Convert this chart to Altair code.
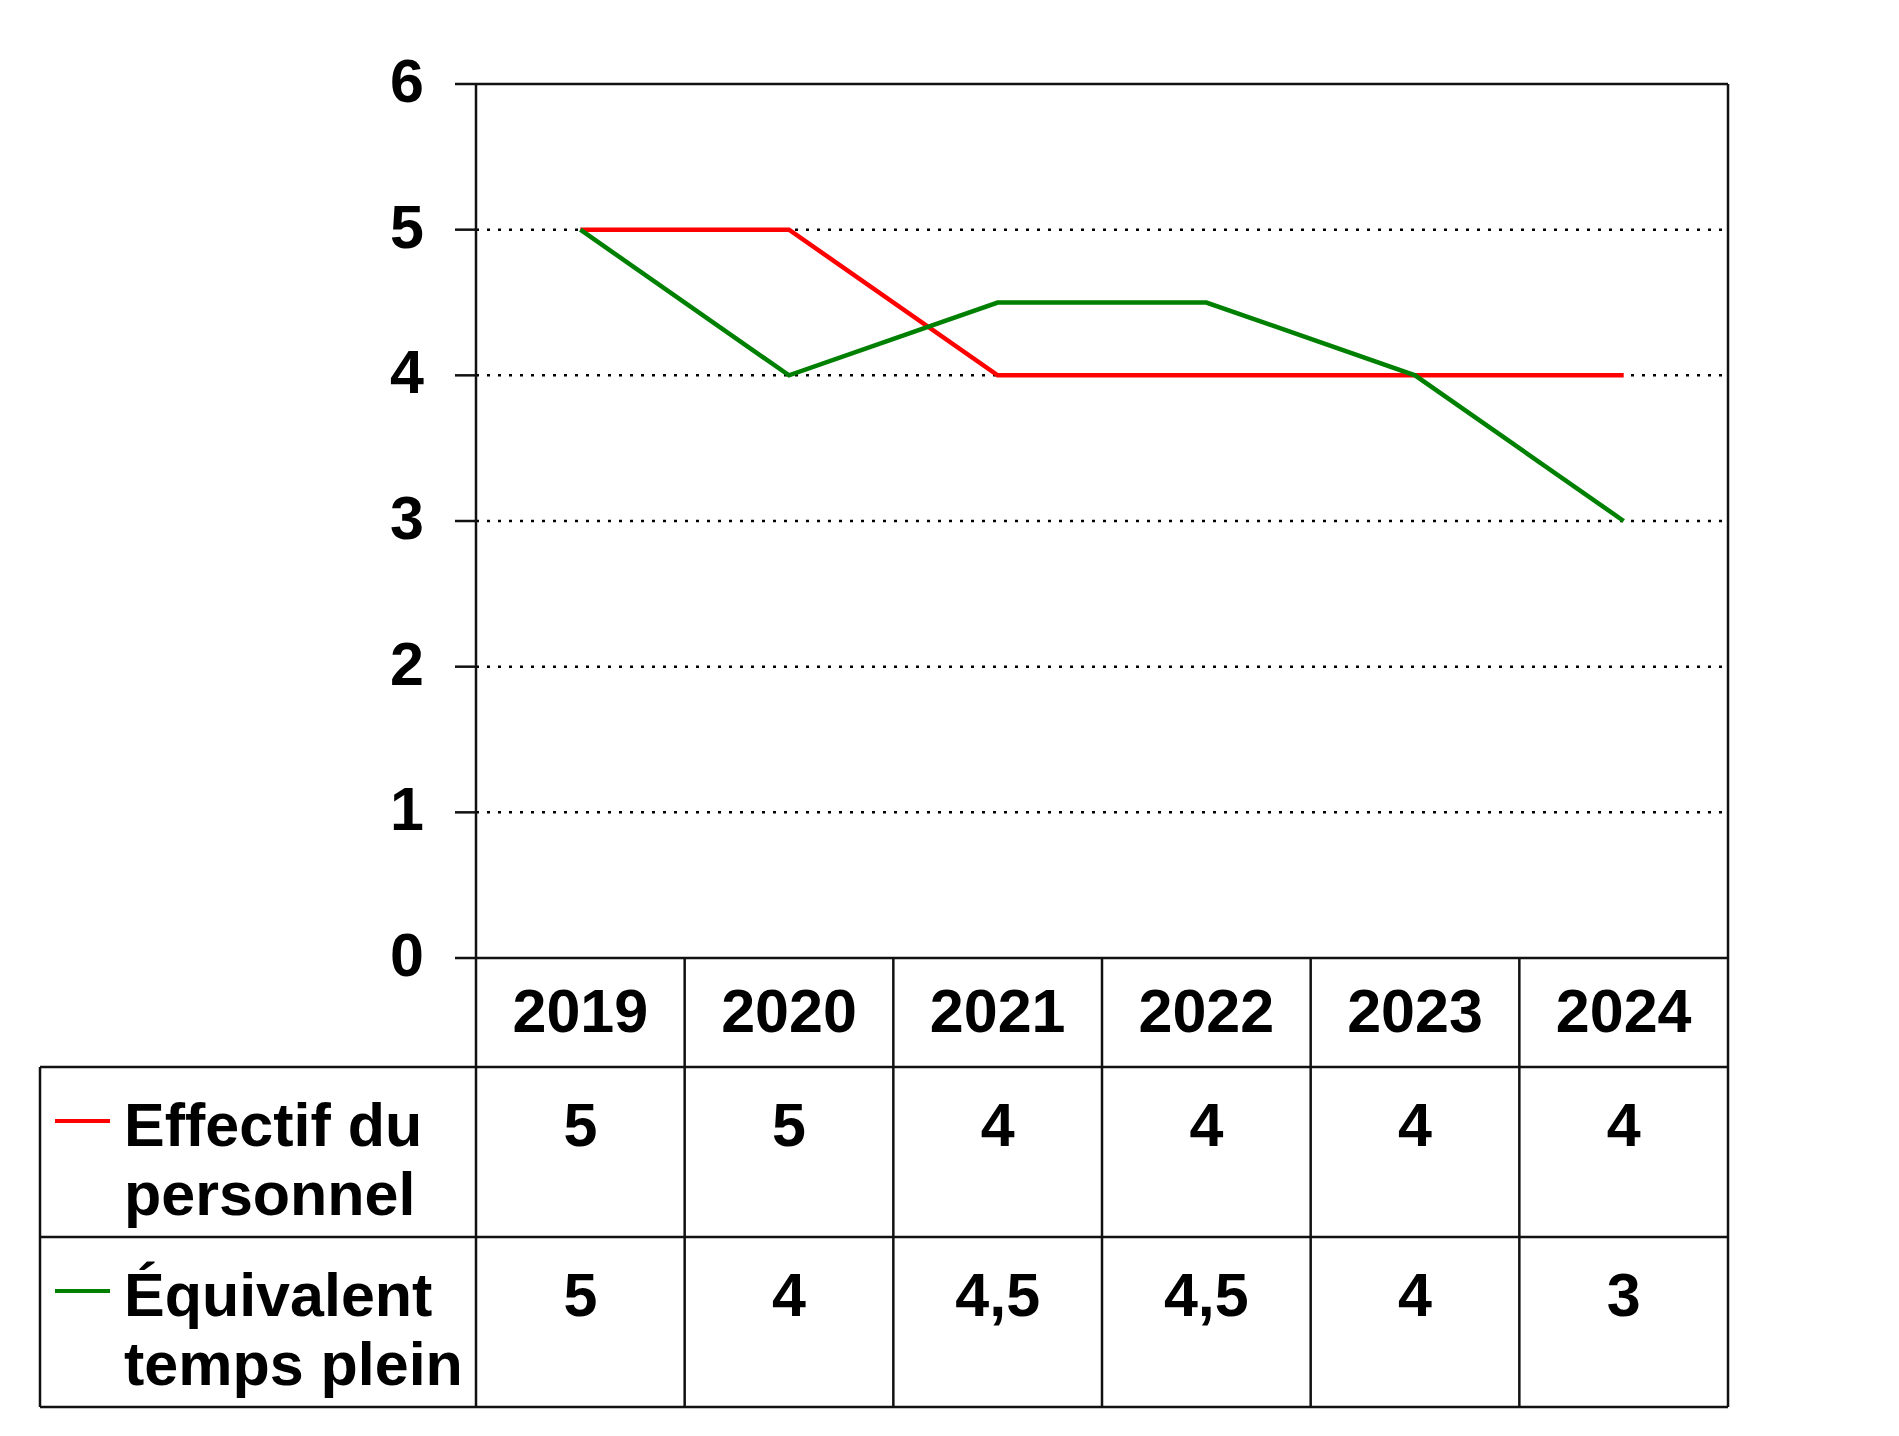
import altair as alt
import pandas as pd

# ---------------- data ----------------
years = ["2019", "2020", "2021", "2022", "2023", "2024"]
effectif = [5, 5, 4, 4, 4, 4]
etp = [5, 4, 4.5, 4.5, 4, 3]
effectif_labels = ["5", "5", "4", "4", "4", "4"]
etp_labels = ["5", "4", "4,5", "4,5", "4", "3"]
series_names = ["Effectif du personnel", "Équivalent temps plein"]
series_text = ["Effectif du\npersonnel", "Équivalent\ntemps plein"]
series_colors = ["#FF0000", "#008000"]
y_ticks = [0, 1, 2, 3, 4, 5, 6]
grid_values = [1, 2, 3, 4, 5]

# ---------------- layout (pixels) ----------------
COL_PX = 208.67      # width of one year column
UNIT_PX = 145.67     # pixels per y unit
LEG_PX = 436         # width of legend column of the table
HEAD_PX = 109        # header row height
ROW_PX = 170         # data row height
BASE_PX = 79         # text baseline below row top
SW_PX = 54           # swatch position below row top
TICK_PX = 21         # y tick length
FONT = "Liberation Sans"
FS = 61

W = LEG_PX + 6 * COL_PX
H = 6 * UNIT_PX + HEAD_PX + 2 * ROW_PX

x_min = -0.5 - LEG_PX / COL_PX
x_max = 5.5
y_min = -(HEAD_PX + 2 * ROW_PX) / UNIT_PX
y_max = 6.0

def dy(px):  # pixels below y = 0 -> data units
    return -px / UNIT_PX

def dx(px):  # pixels right of table left -> data units
    return x_min + px / COL_PX

xs = alt.Scale(domain=[x_min, x_max], nice=False, zero=False)
ys = alt.Scale(domain=[y_min, y_max], nice=False, zero=False)

# ---------------- lines ----------------
rows = []
for name, vals in zip(series_names, [effectif, etp]):
    for i, v in enumerate(vals):
        rows.append({"i": i, "v": v, "s": name})
line_df = pd.DataFrame(rows)

lines = alt.Chart(line_df).mark_line(strokeWidth=4.5).encode(
    x=alt.X("i:Q", scale=xs, axis=None),
    y=alt.Y("v:Q", scale=ys, axis=None),
    color=alt.Color("s:N", scale=alt.Scale(domain=series_names, range=series_colors), legend=None),
    detail="s:N",
)

# ---------------- y ticks & labels ----------------
tick_df = pd.DataFrame({"y": y_ticks, "x": -0.5, "x2": -0.5 - TICK_PX / COL_PX,
                        "t": [str(v) for v in y_ticks]})
ticks = alt.Chart(tick_df).mark_rule(color="#111111", strokeWidth=2.5).encode(
    x=alt.X("x:Q", scale=xs, axis=None), x2="x2:Q",
    y=alt.Y("y:Q", scale=ys, axis=None),
)
tick_labels = alt.Chart(tick_df).mark_text(
    font=FONT, fontSize=FS, fontWeight="bold", color="black",
    align="right", baseline="middle", dx=-(TICK_PX + 31), dy=0).encode(
    x=alt.X("x:Q", scale=xs, axis=None),
    y=alt.Y("y:Q", scale=ys, axis=None),
    text="t:N",
)

# ---------------- grid ----------------
grid_df = pd.DataFrame({"y": grid_values, "x": -0.5, "x2": 5.5})
grid = alt.Chart(grid_df).mark_rule(color="black", strokeWidth=2.5, strokeDash=[3, 8]).encode(
    x=alt.X("x:Q", scale=xs, axis=None), x2="x2:Q",
    y=alt.Y("y:Q", scale=ys, axis=None),
)

# ---------------- borders ----------------
hb = dy(HEAD_PX)
r1 = dy(HEAD_PX + ROW_PX)
r2 = dy(HEAD_PX + 2 * ROW_PX)
seg = []
seg.append({"x": -0.5, "x2": 5.5, "y": 6, "y2": 6})
seg.append({"x": -0.5, "x2": 5.5, "y": 0, "y2": 0})
seg.append({"x": -0.5, "x2": -0.5, "y": 6, "y2": r2})
seg.append({"x": 5.5, "x2": 5.5, "y": 6, "y2": r2})
for k in range(1, 6):
    seg.append({"x": -0.5 + k, "x2": -0.5 + k, "y": 0, "y2": r2})
for yy in [hb, r1, r2]:
    seg.append({"x": x_min, "x2": 5.5, "y": yy, "y2": yy})
seg.append({"x": x_min, "x2": x_min, "y": hb, "y2": r2})
seg_df = pd.DataFrame(seg)
borders = alt.Chart(seg_df).mark_rule(color="#111111", strokeWidth=2.5).encode(
    x=alt.X("x:Q", scale=xs, axis=None), x2="x2:Q",
    y=alt.Y("y:Q", scale=ys, axis=None), y2="y2:Q",
)

# ---------------- table text ----------------
txt = []
for i, yr in enumerate(years):
    txt.append({"x": i, "y": dy(BASE_PX - 5), "t": yr})
for i, lab in enumerate(effectif_labels):
    txt.append({"x": i, "y": dy(HEAD_PX + BASE_PX), "t": lab})
for i, lab in enumerate(etp_labels):
    txt.append({"x": i, "y": dy(HEAD_PX + ROW_PX + BASE_PX), "t": lab})
txt_df = pd.DataFrame(txt)
cells = alt.Chart(txt_df).mark_text(
    font=FONT, fontSize=FS, fontWeight="bold", color="black",
    align="center", baseline="alphabetic").encode(
    x=alt.X("x:Q", scale=xs, axis=None),
    y=alt.Y("y:Q", scale=ys, axis=None),
    text="t:N",
)

leg_df = pd.DataFrame({
    "x": [dx(84)] * 2,
    "y": [dy(HEAD_PX + BASE_PX), dy(HEAD_PX + ROW_PX + BASE_PX)],
    "t": series_text,
})
leg_text = alt.Chart(leg_df).mark_text(
    font=FONT, fontSize=FS, fontWeight="bold", color="black",
    align="left", baseline="alphabetic", lineBreak="\n", lineHeight=69).encode(
    x=alt.X("x:Q", scale=xs, axis=None),
    y=alt.Y("y:Q", scale=ys, axis=None),
    text="t:N",
)

sw_df = pd.DataFrame({
    "x": [dx(15)] * 2, "x2": [dx(70)] * 2,
    "y": [dy(HEAD_PX + SW_PX), dy(HEAD_PX + ROW_PX + SW_PX)],
    "s": series_names,
})
swatches = alt.Chart(sw_df).mark_rule(strokeWidth=4).encode(
    x=alt.X("x:Q", scale=xs, axis=None), x2="x2:Q",
    y=alt.Y("y:Q", scale=ys, axis=None),
    color=alt.Color("s:N", scale=alt.Scale(domain=series_names, range=series_colors), legend=None),
)

chart = alt.layer(grid, borders, ticks, tick_labels, lines, cells, leg_text, swatches).properties(
    width=W, height=H,
    background="white",
    autosize=alt.AutoSizeParams(type="none"),
    padding={"left": 32, "top": 76, "right": 20, "bottom": 10},
).configure_view(strokeWidth=0, stroke="transparent")

chart.save("out.html", embed_options={"renderer": "svg", "actions": False})
